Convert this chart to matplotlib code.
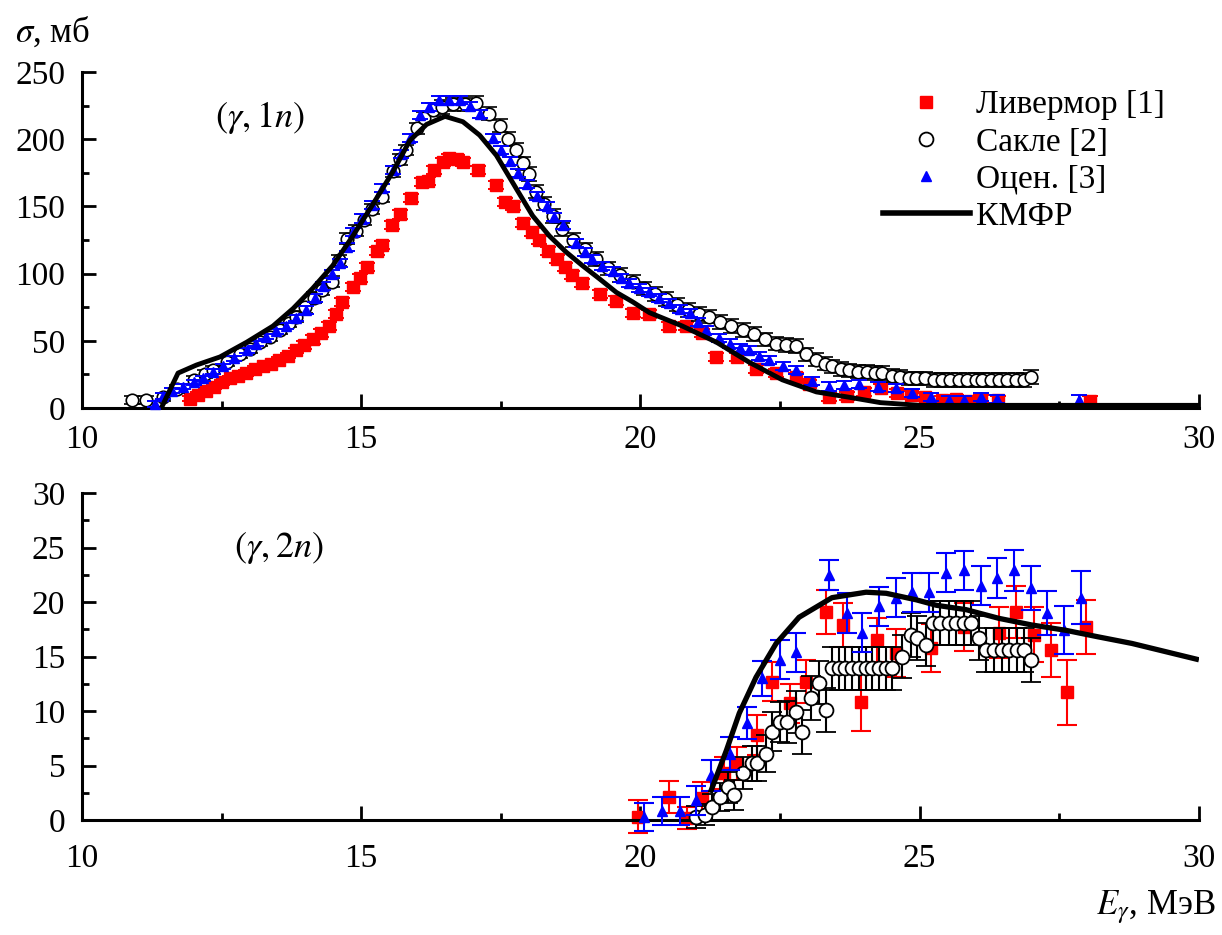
# сечения фотонейтронных реакций (g,1n) и (g,2n): Ливермор, Сакле, оценка и расчёт КМФР

import matplotlib
matplotlib.use('Agg')
import matplotlib.pyplot as plt
from matplotlib.lines import Line2D
from matplotlib.ticker import MultipleLocator

plt.rcParams['font.family'] = ['Liberation Serif', 'DejaVu Serif']
plt.rcParams['mathtext.fontset'] = 'stix'

# ---- (g,1n) ----
liv1_e = [11.93, 12.08, 12.22, 12.37, 12.51, 12.65, 12.80, 12.94, 13.09, 13.24, 13.38, 13.53,
          13.68, 13.84, 13.98, 14.13, 14.28, 14.42, 14.55, 14.65, 14.85, 14.97, 15.10, 15.28,
          15.38, 15.56, 15.69, 15.90, 16.08, 16.19, 16.31, 16.46, 16.58, 16.71, 16.82, 17.09,
          17.42, 17.57, 17.71, 17.89, 18.05, 18.19, 18.34, 18.50, 18.64, 18.78, 18.96, 19.27,
          19.57, 19.86, 20.16, 20.52, 20.82, 21.10, 21.36, 21.72, 22.07, 22.43, 22.79, 23.02,
          23.38, 23.70, 24.00, 24.30, 24.60, 24.85, 25.10, 25.40, 25.65, 25.90, 26.10, 26.40,
          28.05]
liv1_s = [7, 10, 13, 16, 19, 22, 24, 26, 29, 31, 33, 36,
          39, 43, 47, 51, 56, 61, 70, 79, 90, 97, 105, 117,
          121, 136, 144, 156, 168, 169, 177, 183, 186, 185, 183, 177,
          166, 153, 150, 138, 131, 125, 117, 111, 105, 99, 93, 85,
          80, 71, 70, 61, 61, 56, 38, 38, 29, 26, 23, 18,
          8, 9, 12, 15, 11, 10, 8, 6, 7, 5, 7, 6,
          5]
liv1_d = [2, 2, 2, 2, 2, 2, 2, 2, 2, 2, 2, 2,
          2, 2, 3, 3, 3, 3, 3, 3, 3, 3, 3, 3,
          3, 3, 3, 3, 3, 3, 3, 3, 3, 3, 3, 3,
          3, 3, 3, 3, 3, 3, 3, 3, 3, 3, 3, 3,
          3, 3, 3, 3, 3, 3, 3, 3, 3, 3, 3, 3,
          3, 3, 3, 3, 3, 3, 3, 3, 3, 3, 3, 3,
          4]

sac1_e = [10.90, 11.15, 11.45, 11.70, 12.00, 12.20, 12.35, 12.60, 12.83, 13.00, 13.18, 13.36,
          13.54, 13.70, 13.84, 14.00, 14.15, 14.30, 14.47, 14.60, 14.74, 14.90, 15.05, 15.20,
          15.37, 15.57, 15.70, 15.81, 15.99, 16.13, 16.28, 16.45, 16.64, 16.85, 17.06, 17.28,
          17.48, 17.62, 17.78, 17.90, 18.01, 18.13, 18.28, 18.43, 18.60, 18.80, 19.00, 19.20,
          19.42, 19.64, 19.86, 20.06, 20.26, 20.46, 20.66, 20.86, 21.05, 21.23, 21.43, 21.63,
          21.83, 22.03, 22.23, 22.43, 22.61, 22.79, 22.97, 23.15, 23.30, 23.43, 23.60, 23.74,
          23.90, 24.05, 24.20, 24.33, 24.50, 24.65, 24.80, 24.94, 25.10, 25.25, 25.40, 25.55,
          25.70, 25.85, 26.00, 26.12, 26.27, 26.42, 26.57, 26.72, 26.87, 27.00]
sac1_s = [6, 6, 8, 14, 21, 25, 28, 34, 40, 44, 49, 53,
          58, 63, 68, 75, 82, 88, 94, 110, 126, 132, 140, 148,
          157, 176, 185, 192, 208, 216, 222, 224, 226, 226, 227, 219,
          210, 200, 192, 182, 174, 161, 152, 143, 133, 125, 118, 111,
          104, 99, 94, 89, 85, 81, 77, 73, 70, 68, 64, 61,
          58, 55, 51, 48, 47, 46, 40, 36, 33, 31, 29, 28,
          27, 27, 26, 26, 24, 23, 22, 22, 22, 21, 21, 21,
          21, 21, 21, 21, 21, 21, 21, 21, 21, 23]
sac1_d = [3, 3, 3, 3, 3, 3, 3, 3, 3, 3, 3, 3,
          3, 3, 4, 4, 4, 4, 4, 4, 4, 4, 4, 4,
          4, 4, 4, 4, 4, 4, 5, 5, 5, 5, 5, 5,
          5, 5, 5, 5, 5, 5, 5, 5, 5, 5, 5, 5,
          5, 5, 5, 5, 5, 5, 5, 5, 5, 5, 5, 5,
          5, 5, 5, 5, 5, 5, 5, 5, 5, 5, 5, 5,
          5, 5, 5, 5, 5, 5, 5, 5, 5, 5, 5, 5,
          5, 5, 5, 5, 5, 5, 5, 5, 5, 5]

est1_e = [11.30, 11.45, 11.62, 11.81, 12.00, 12.17, 12.35, 12.52, 12.73, 12.95, 13.12, 13.30,
          13.48, 13.66, 13.84, 14.02, 14.17, 14.31, 14.47, 14.62, 14.74, 14.85, 15.02, 15.20,
          15.38, 15.57, 15.72, 15.87, 16.05, 16.22, 16.40, 16.58, 16.76, 16.94, 17.12, 17.36,
          17.50, 17.66, 17.80, 17.96, 18.14, 18.32, 18.46, 18.61, 18.85, 19.00, 19.14, 19.32,
          19.50, 19.65, 19.80, 19.98, 20.16, 20.34, 20.52, 20.70, 20.88, 21.03, 21.18, 21.40,
          21.60, 21.78, 21.95, 22.13, 22.31, 22.55, 22.79, 23.08, 23.38, 23.65, 23.92, 24.25,
          24.58, 24.87, 25.20, 25.53, 25.80, 26.10, 26.38, 27.85]
est1_s = [3, 9, 13, 16, 19, 22, 27, 31, 37, 43, 48, 53,
          57, 61, 67, 73, 82, 91, 100, 108, 120, 131, 141, 151,
          164, 177, 189, 201, 218, 224, 229, 229, 229, 225, 219, 201,
          192, 184, 175, 167, 158, 150, 142, 136, 123, 116, 111, 106,
          102, 97, 93, 89, 86, 82, 78, 74, 71, 64, 58, 52,
          48, 45, 43, 39, 36, 31, 28, 20, 16, 17, 18, 16,
          15, 11, 8, 6, 6, 8, 7, 6]
est1_d = [2, 2, 2, 2, 2, 2, 2, 2, 2, 2, 2, 2,
          2, 2, 2, 3, 3, 3, 3, 3, 3, 3, 3, 3,
          3, 3, 3, 3, 3, 3, 3, 3, 3, 3, 3, 3,
          3, 3, 3, 3, 3, 3, 3, 3, 3, 3, 3, 3,
          3, 3, 3, 3, 3, 3, 3, 3, 3, 3, 3, 3,
          3, 3, 3, 3, 3, 3, 3, 3, 3, 3, 3, 3,
          3, 3, 3, 3, 3, 3, 3, 4]

kmfr1_e = [11.42, 11.72, 12.05, 12.47, 12.95, 13.42, 13.78, 14.13, 14.49, 14.85, 15.20, 15.57,
           15.87, 16.17, 16.50, 16.82, 17.12, 17.42, 17.78, 18.07, 18.37, 18.67, 18.96, 19.27,
           19.57, 19.86, 20.16, 20.75, 21.36, 21.95, 22.54, 23.15, 23.74, 24.30, 25.00, 26.00,
           27.00, 28.00, 29.00, 30.00]
kmfr1_s = [0, 26, 32, 38, 49, 61, 74, 89, 106, 128, 151, 176,
           199, 211, 217, 213, 203, 188, 163, 143, 128, 116, 106, 96,
           86, 79, 71, 61, 49, 34, 21, 12, 8, 4, 2, 2,
           2, 2, 2, 2]

# ---- (g,2n) ----
liv2_e = [19.95, 20.52, 20.84, 21.11, 21.50, 21.72, 22.09, 22.36, 22.67, 22.97, 23.33, 23.62,
          23.95, 24.24, 24.58, 25.20, 25.80, 26.42, 26.72, 27.04, 27.35, 27.64, 27.98]
liv2_s = [0.3, 2.1, 0.2, 2.0, 4.3, 5.2, 7.8, 12.7, 10.7, 12.7, 19.1, 17.9,
          10.8, 16.5, 15.3, 15.8, 17.7, 17.2, 19.1, 17.0, 15.6, 11.7, 17.7]
liv2_d = [1.5, 1.5, 1.0, 1.5, 1.5, 1.5, 1.8, 1.8, 1.8, 2.0, 2.0, 2.0,
          2.6, 2.0, 2.2, 2.2, 2.2, 2.3, 2.4, 2.5, 2.5, 3.0, 2.5]

sac2_e = [21.00, 21.15, 21.29, 21.42, 21.56, 21.68, 21.83, 22.00, 22.09, 22.25, 22.36, 22.49,
          22.63, 22.79, 22.90, 23.06, 23.20, 23.33, 23.43, 23.55, 23.67, 23.79, 23.91, 24.03,
          24.15, 24.27, 24.39, 24.51, 24.69, 24.85, 24.96, 25.11, 25.23, 25.37, 25.52, 25.65,
          25.80, 25.92, 26.07, 26.18, 26.33, 26.48, 26.60, 26.75, 26.87, 26.99]
sac2_s = [0.3, 0.5, 1.2, 2.1, 3.0, 2.3, 4.3, 5.2, 5.2, 6.1, 8.1, 9.0,
          9.0, 9.9, 8.1, 11.2, 12.6, 10.1, 13.9, 13.9, 13.9, 13.9, 13.9, 13.9,
          13.9, 13.9, 13.9, 13.9, 15.0, 17.0, 16.7, 16.1, 18.1, 18.1, 18.1, 18.1,
          18.1, 18.1, 16.7, 15.6, 15.6, 15.6, 15.6, 15.6, 15.6, 14.7]
sac2_d = [1.0, 1.0, 1.2, 1.3, 1.4, 1.4, 1.5, 1.6, 1.6, 1.7, 1.8, 1.8,
          1.9, 1.9, 2.0, 2.0, 2.0, 2.0, 2.0, 2.0, 2.0, 2.0, 2.0, 2.0,
          2.0, 2.0, 2.0, 2.0, 2.0, 2.0, 2.0, 2.0, 2.0, 2.0, 2.0, 2.0,
          2.0, 2.0, 2.0, 2.0, 2.0, 2.0, 2.0, 2.0, 2.0, 2.0]

est2_e = [20.07, 20.38, 20.70, 21.00, 21.27, 21.60, 21.90, 22.18, 22.49, 22.79, 23.38, 23.69,
          23.97, 24.28, 24.58, 24.87, 25.17, 25.47, 25.80, 26.10, 26.38, 26.69, 26.99, 27.28,
          27.59, 27.89]
est2_s = [0.3, 0.8, 0.8, 1.8, 4.1, 6.1, 8.9, 13.0, 14.7, 15.4, 22.5, 19.0,
          17.2, 19.6, 20.4, 20.9, 20.9, 22.7, 22.9, 21.5, 22.2, 22.9, 21.3, 19.0,
          17.4, 20.4]
est2_d = [1.3, 1.3, 1.3, 1.3, 1.4, 1.5, 1.5, 1.6, 1.8, 1.8, 1.4, 1.8,
          1.8, 1.8, 1.8, 1.8, 1.8, 1.8, 1.8, 1.8, 1.8, 1.9, 2.0, 2.0,
          2.2, 2.4]

kmfr2_e = [21.25, 21.54, 21.77, 22.07, 22.43, 22.84, 23.43, 24.04, 24.40, 24.94, 25.30, 25.83,
           26.42, 27.00, 27.62, 28.20, 28.80, 30.00]
kmfr2_s = [2.5, 6.4, 9.8, 13.1, 16.2, 18.6, 20.4, 20.9, 20.8, 20.2, 19.7, 19.3,
           18.5, 17.9, 17.4, 16.8, 16.2, 14.7]

RED = '#ff0000'
BLUE = '#0000ff'

fig = plt.figure(figsize=(12.22, 9.35), dpi=100)
ax1 = fig.add_axes([0.0671, 0.5636, 0.914, 0.3594])
ax2 = fig.add_axes([0.0671, 0.1230, 0.914, 0.3497])

# верхняя панель
ax1.errorbar(liv1_e, liv1_s, yerr=liv1_d, fmt='s', color=RED, ms=8, capsize=6,
             elinewidth=1.4, capthick=1.4, clip_on=False, zorder=2)
ax1.errorbar(sac1_e, sac1_s, yerr=sac1_d, fmt='o', mfc='white', mec='black', ecolor='black',
             ms=9, mew=1.2, capsize=6, elinewidth=1.4, capthick=1.4, clip_on=False, zorder=3)
ax1.errorbar(est1_e, est1_s, yerr=est1_d, fmt='^', color=BLUE, ms=7.5, capsize=6,
             elinewidth=1.4, capthick=1.4, clip_on=False, zorder=4)
ax1.plot(kmfr1_e, kmfr1_s, color='black', lw=3.5, zorder=5, solid_capstyle='butt')

# нижняя панель
ax2.errorbar(liv2_e, liv2_s, yerr=liv2_d, fmt='s', color=RED, ms=8.5, capsize=7,
             elinewidth=1.5, capthick=1.5, clip_on=False, zorder=2)
ax2.errorbar(sac2_e, sac2_s, yerr=sac2_d, fmt='o', mfc='white', mec='black', ecolor='black',
             ms=10, mew=1.3, capsize=7, elinewidth=1.5, capthick=1.5, clip_on=False, zorder=3)
ax2.errorbar(est2_e, est2_s, yerr=est2_d, fmt='^', color=BLUE, ms=7.5, capsize=7,
             elinewidth=1.5, capthick=1.5, clip_on=False, zorder=4)
ax2.plot(kmfr2_e, kmfr2_s, color='black', lw=3.8, zorder=5, solid_capstyle='butt')

ax1.set_ylim(0, 250)
ax2.set_ylim(0, 30)
ax1.yaxis.set_major_locator(MultipleLocator(50))
ax1.yaxis.set_minor_locator(MultipleLocator(25))
ax2.yaxis.set_major_locator(MultipleLocator(5))
ax2.yaxis.set_minor_locator(MultipleLocator(2.5))

for ax in (ax1, ax2):
    ax.set_xlim(10, 30)
    ax.xaxis.set_major_locator(MultipleLocator(5))
    ax.xaxis.set_minor_locator(MultipleLocator(2.5))
    ax.spines['top'].set_visible(False)
    ax.spines['right'].set_visible(False)
    for side in ('left', 'bottom'):
        ax.spines[side].set_linewidth(2.2)
    ax.tick_params(which='major', direction='in', length=10, width=2, labelsize=24)
    ax.tick_params(which='minor', direction='in', length=5, width=2)
    ax.tick_params(axis='y', which='major', pad=12)
    ax.set_facecolor('none')

ax1.tick_params(axis='x', which='major', pad=12)
ax2.tick_params(axis='x', which='major', pad=17)

ax1.text(13.18, 216, r'$(\gamma,1n)$', fontsize=26, ha='center', va='center')
ax2.text(13.52, 25, r'$(\gamma,2n)$', fontsize=26, ha='center', va='center')

fig.text(0.012, 1 - 32 / 935, r'$\sigma$, мб', fontsize=25, ha='left', va='center')
fig.text(0.995, 1 - 907 / 935, r'$E_\gamma$, МэВ', fontsize=25, ha='right', va='center')

handles = [
    Line2D([], [], ls='none', marker='s', color=RED, ms=9),
    Line2D([], [], ls='none', marker='o', mfc='white', mec='black', mew=1.3, ms=10),
    Line2D([], [], ls='none', marker='^', color=BLUE, ms=7),
    Line2D([], [], color='black', lw=4),
]
labels = ['Ливермор [1]', 'Сакле [2]', 'Оцен. [3]', 'КМФР']
fig.legend(handles, labels, loc='upper left', bbox_to_anchor=(883 / 1222, 1 - 90 / 935),
           frameon=False, fontsize=24, handlelength=2.6, handletextpad=0.2,
           labelspacing=0.2, borderpad=0, borderaxespad=0)

fig.savefig('out.png', dpi=100)
